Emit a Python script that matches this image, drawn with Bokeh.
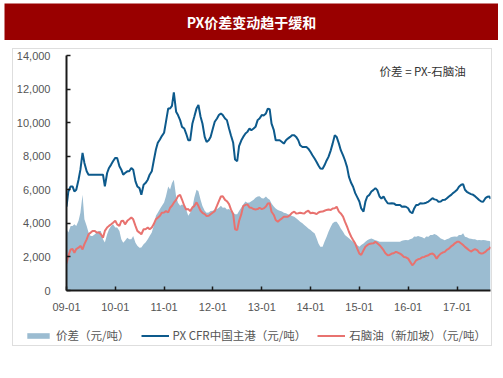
import pandas as pd
from bokeh.plotting import figure
from bokeh.layouts import column
from bokeh.models import (Range1d, FixedTicker, SingleIntervalTicker, DatetimeTickFormatter,
                          NumeralTickFormatter, Legend, LegendItem, Label, ColumnDataSource)
from bokeh.core.properties import value
from bokeh.embed import file_html
from bokeh.resources import INLINE

title_text = "PX价差变动趋于缓和"
note_text = "价差 = PX-石脑油"
series_names = ["价差（元/吨）", "PX CFR中国主港（元/吨）", "石脑油（新加坡）（元/吨）"]
tick_years = [2009, 2010, 2011, 2012, 2013, 2014, 2015, 2016, 2017]

# readings at the start of each month, 2009-01 .. 2017-09, plus the last point (2017-09-08)
px_start = [5000, 6200, 5900, 6600, 8200, 7100, 6900, 6900, 6900, 6900, 7000, 7500,
            7900, 7400, 6900, 7100, 7300, 6500, 6100, 6300, 6600, 7100, 8400, 9000,
            9400, 10850, 11000, 10650, 10150, 9650, 8950, 9950, 10850, 10350, 9150, 8950,
            9650, 10250, 10550, 10250, 9650, 8800, 7700, 8950, 9350, 9650, 9650, 10150,
            10450, 10550, 10800, 9550, 8950, 8850, 8950, 9150, 9250, 8950, 8550, 8550,
            8250, 7850, 7450, 7250, 7750, 8350, 9250, 8750, 8050, 7350, 6400, 5800,
            5300, 4700, 5600, 5900, 6100, 5600, 5600, 5200, 5200, 5100, 5100, 5000,
            4900, 4600, 5100, 5200, 5200, 5300, 5500, 5400, 5300, 5400, 5600, 5800,
            6000, 6300, 6000, 5800, 5700, 5500, 5300, 5500, 5600, 5450]
naph_start = [1600, 2450, 2250, 2550, 2450, 3050, 3450, 3550, 3450, 3150, 3750, 3950,
              4150, 3850, 4150, 4150, 4350, 3850, 3450, 3650, 3750, 3750, 4250, 4450,
              4650, 4650, 5050, 5400, 5700, 5050, 4850, 4950, 5250, 4750, 4550, 4450,
              4650, 5050, 5600, 5400, 5150, 4550, 3600, 4550, 5100, 4950, 4850, 4850,
              4850, 5000, 5200, 4500, 4100, 4300, 4400, 4500, 4700, 4600, 4600, 4700,
              4600, 4600, 4650, 4700, 4800, 4800, 4900, 4700, 4400, 3800, 3200, 2800,
              2200, 2400, 2700, 2800, 2900, 2700, 2400, 2100, 2200, 2300, 2200, 2000,
              1900, 1500, 1800, 1900, 2000, 2100, 2200, 1900, 2200, 2300, 2500, 2700,
              2900, 2800, 2600, 2400, 2400, 2400, 2200, 2300, 2500, 2600]
spread_start = [3650, 3850, 3950, 4150, 5700, 3850, 3250, 3350, 3550, 3050, 3350, 3850,
                3750, 3550, 2850, 3150, 3050, 2850, 2550, 2750, 3050, 3450, 4450, 4850,
                5250, 6200, 6400, 5600, 5050, 5050, 4450, 4950, 6000, 5400, 4750, 4650,
                4750, 4850, 5050, 4950, 4850, 4650, 4550, 4950, 5300, 5250, 5400, 5600,
                5500, 5600, 5400, 5000, 4800, 4700, 4600, 4500, 4400, 4200, 4000, 3800,
                3600, 3400, 2800, 2600, 3200, 3800, 4100, 3900, 3500, 3200, 3000, 2800,
                2600, 2800, 3000, 3100, 3000, 2900, 2900, 2900, 2900, 2900, 2900, 3000,
                3000, 3100, 3200, 3200, 3100, 3200, 3300, 3300, 3100, 3000, 3100, 3200,
                3200, 3300, 3200, 3100, 3050, 3000, 3000, 3000, 2950, 2900]

# readings at the middle of each month, 2009-01 .. 2017-08
px_mid = [5900, 6200, 6000, 7200, 7600, 6900, 6900, 6900, 6900, 6200, 7300, 7700,
          7900, 7200, 7000, 7100, 7200, 6200, 5700, 6400, 6900, 7700, 8800, 9200,
          10050, 10850, 11800, 10450, 9750, 9350, 8950, 10350, 11050, 9950, 8850, 9150,
          10050, 10450, 10450, 10150, 9250, 7800, 8600, 9150, 9450, 9550, 9750, 10250,
          10430, 10830, 9940, 8950, 8950, 8750, 9050, 9250, 9150, 8650, 8550, 8450,
          8060, 7660, 7270, 7460, 7960, 8750, 9150, 8360, 7760, 6770, 6180, 5580,
          4890, 5290, 5680, 5980, 5980, 5480, 5390, 5190, 5190, 5090, 4990, 4990,
          4690, 4890, 5090, 5190, 5230, 5390, 5430, 5290, 5390, 5480, 5680, 5880,
          6180, 6340, 5880, 5740, 5620, 5390, 5290, 5580]
naph_mid = [2070, 2470, 2470, 2660, 2760, 3350, 3550, 3450, 3350, 3550, 3850, 4040,
            3940, 4140, 3940, 4240, 4240, 3550, 3350, 3650, 3650, 3940, 4340, 4630,
            4730, 4930, 5230, 5620, 5420, 4830, 4730, 5030, 5030, 4630, 4440, 4540,
            4730, 5320, 5620, 5320, 4830, 3650, 4140, 5030, 5130, 4930, 4830, 4930,
            4890, 5190, 4690, 4200, 4200, 4400, 4400, 4630, 4590, 4630, 4590, 4750,
            4630, 4550, 4690, 4750, 4830, 4890, 4990, 4590, 4100, 3500, 3010, 2510,
            2120, 2610, 2770, 2810, 2810, 2570, 2220, 2120, 2220, 2260, 2120, 1980,
            1720, 1620, 1860, 1980, 2060, 2180, 2120, 2060, 2260, 2420, 2610, 2810,
            2910, 2710, 2510, 2320, 2460, 2260, 2220, 2420]
spread_mid = [3450, 3850, 3850, 4630, 4240, 3450, 3250, 3450, 3550, 2860, 3650, 3940,
              3750, 3060, 2960, 3060, 3250, 2660, 2560, 2860, 3250, 3850, 4630, 5030,
              5620, 6010, 6600, 5230, 5130, 4830, 4630, 5520, 5920, 5030, 4630, 4730,
              4830, 4930, 4930, 4830, 4730, 4540, 4730, 5130, 5230, 5320, 5520, 5620,
              5480, 5480, 5190, 4890, 4750, 4630, 4550, 4440, 4300, 4100, 3900, 3700,
              3500, 3110, 2610, 2910, 3500, 4000, 4100, 3700, 3310, 3110, 2910, 2710,
              2710, 2910, 3050, 3050, 2970, 2910, 2910, 2910, 2910, 2910, 2970, 3010,
              3050, 3210, 3250, 3170, 3210, 3310, 3370, 3210, 3050, 3050, 3170, 3210,
              3310, 3410, 3170, 3090, 3050, 3010, 3010, 2970]

start_dates = list(pd.date_range("2009-01-01", periods=len(px_start) - 1, freq="MS")) \
    + [pd.Timestamp("2017-09-08")]
mid_dates = list(pd.date_range("2009-01-01", periods=len(px_mid), freq="MS")
                 + pd.Timedelta(days=14))
df = pd.DataFrame({"date": start_dates + mid_dates,
                   "px": px_start + px_mid,
                   "naph": naph_start + naph_mid,
                   "spread": spread_start + spread_mid}).sort_values("date")
src = ColumnDataSource(df)

FONT = "Noto Sans CJK SC"
C_AREA, C_PX, C_NA = "#9bbcd1", "#0d5a8c", "#e8726f"


def no_align(fig):
    try:
        fig.frame_align = False
    except Exception:
        pass


# ---- header bar
head = figure(width=494, height=37, x_range=(0, 1), y_range=(0, 1),
              x_axis_location=None, y_axis_location=None,
              toolbar_location=None, output_backend="svg", min_border=0,
              margin=(3, 0, 0, 4))
no_align(head)
head.grid.visible = False
head.outline_line_color = None
head.background_fill_color = "#990000"
head.border_fill_color = "#990000"
head.text(x=[0.5], y=[0.5], text=[title_text], text_align="center", text_baseline="middle",
          text_color="white", text_font=value(FONT), text_font_size="14px",
          text_font_style="bold")

# ---- main chart
x0 = pd.Timestamp("2009-01-01")
x1 = pd.Timestamp("2017-09-08")
p = figure(width=478, height=272, x_axis_type="datetime",
           x_range=Range1d(x0, x1), y_range=Range1d(0, 14000),
           toolbar_location=None, output_backend="svg",
           min_border_left=48, min_border_right=1, min_border_top=6, min_border_bottom=31)
no_align(p)
p.background_fill_color = "white"
p.border_fill_color = "white"
p.outline_line_color = None
p.grid.visible = False

r_area = p.varea(x="date", y1=0, y2="spread", source=src, fill_color=C_AREA)
r_px = p.line("date", "px", source=src, line_color=C_PX, line_width=2)
r_na = p.line("date", "naph", source=src, line_color=C_NA, line_width=2)

p.yaxis.ticker = SingleIntervalTicker(interval=2000)
p.yaxis.formatter = NumeralTickFormatter(format="0,0")
tick_ms = [pd.Timestamp(f"{y}-01-01").value // 10**6 for y in tick_years]
p.xaxis.ticker = FixedTicker(ticks=tick_ms)
p.xaxis.formatter = DatetimeTickFormatter(years="%y-%m", months="%y-%m", days="%y-%m",
                                          hours="%y-%m", minutes="%y-%m")
for ax in (p.xaxis[0], p.yaxis[0]):
    ax.axis_line_color = "#1a1a1a"
    ax.axis_line_width = 2
    ax.major_tick_in = 4
    ax.major_tick_out = 0
    ax.major_tick_line_color = "#1a1a1a"
    ax.major_tick_line_width = 1.5
    ax.minor_tick_line_color = None
    ax.major_label_text_font = "Liberation Sans"
    ax.major_label_text_font_size = "11px"
    ax.major_label_text_color = "#555555"
p.yaxis.major_label_standoff = 12
p.xaxis.major_label_standoff = 12

note = Label(x=pd.Timestamp("2015-06-01"), y=13070, text=note_text, text_font=FONT,
             text_font_size="11.5px", text_color="#333333", text_baseline="middle",
             text_align="left")
p.add_layout(note)

# ---- legend strip: same series drawn on an off-screen range, only the key shows
leg = figure(width=478, height=24, x_range=(0, 1), y_range=(0, 1),
             x_axis_location=None, y_axis_location=None,
             toolbar_location=None, output_backend="svg", min_border=0)
no_align(leg)
leg.grid.visible = False
leg.outline_line_color = None
leg.background_fill_color = "white"
leg.border_fill_color = "white"
g_area = leg.varea(x="date", y1=0, y2="spread", source=src, fill_color=C_AREA)
g_px = leg.line("date", "px", source=src, line_color=C_PX, line_width=2)
g_na = leg.line("date", "naph", source=src, line_color=C_NA, line_width=2)
legend = Legend(items=[LegendItem(label=series_names[0], renderers=[g_area]),
                       LegendItem(label=series_names[1], renderers=[g_px]),
                       LegendItem(label=series_names[2], renderers=[g_na])],
                orientation="horizontal", location=(11, 2),
                glyph_width=28, glyph_height=7, label_standoff=4, spacing=11,
                padding=0, margin=0, border_line_color=None, background_fill_alpha=0,
                label_text_font=FONT, label_text_font_size="11.5px",
                label_text_color="#555555")
leg.add_layout(legend)

panel = column(p, leg, spacing=0, margin=(8, 0, 0, 12),
               styles={"border": "1px solid #dedede"})
layout = column(head, panel, spacing=0)
open("out.html", "w").write(file_html(layout, INLINE))
